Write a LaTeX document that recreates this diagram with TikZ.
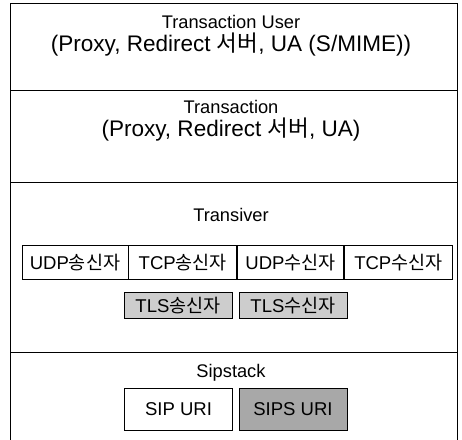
\documentclass[tikz,border=0pt]{standalone}
\usepackage{fontspec}
\setmainfont{Liberation Sans}
\newfontfamily\kr{Noto Sans CJK KR}
\usetikzlibrary{positioning}
\definecolor{tlsgray}{HTML}{CDCDCD}
\definecolor{sipsgray}{HTML}{A8A8A8}
\newcommand{\hg}[1]{{\kr #1}}
\tikzset{
  layer/.style = {draw, line width=0.75pt},
  title/.style = {font=\fontsize{13.7}{16}\selectfont, inner sep=0pt},
  subtitle/.style = {font=\fontsize{16.9}{20}\selectfont, inner sep=0pt},
  unit/.style = {draw, line width=0.6pt, minimum height=25.5pt, inner sep=0pt,
    font=\fontsize{13.9}{17}\selectfont},
  tls/.style = {unit, fill=tlsgray, minimum width=81pt, minimum height=19pt},
  uri/.style = {unit, minimum width=81pt, minimum height=31pt}
}

\begin{document}
\begin{tikzpicture}[x=0.75pt,y=-0.75pt]
  \useasboundingbox (0,0) rectangle (462,440);
  % layers
  \draw[layer] (10,445) -- (10,3) -- (458,3) -- (458,445);
  \draw[layer] (10,90) -- (458,90);
  \draw[layer] (10,182) -- (458,182);
  \draw[layer] (10,352) -- (458,352);
  % Transaction User
  \node[title] (tu) at (231,22) {Transaction User};
  \node[subtitle] (tuwho) at (231,45) {(Proxy, Redirect \hg{서버}, UA (S/MIME))};
  % Transaction
  \node[title] (ta) at (231,107) {Transaction};
  \node[subtitle] (tawho) at (231,130) {(Proxy, Redirect \hg{서버}, UA)};
  % Transiver
  \node[title] (tr) at (231,215) {Transiver};
  \node[unit, minimum width=79.5pt] (udps) at (75,262.5) {UDP\hg{송신자}};
  \node[unit, minimum width=81pt, right=0pt of udps] (tcps) {TCP\hg{송신자}};
  \node[unit, minimum width=79.5pt, right=0pt of tcps] (udpr) {UDP\hg{수신자}};
  \node[unit, minimum width=81pt, right=0pt of udpr] (tcpr) {TCP\hg{수신자}};
  \node[tls] (tlss) at (178,305.5) {TLS\hg{송신자}};
  \node[tls] (tlsr) at (293,305.5) {TLS\hg{수신자}};
  % Sipstack
  \node[title] (ss) at (231,373) {Sipstack};
  \node[uri] (sip) at (178.5,409.5) {SIP URI};
  \node[uri, fill=sipsgray] (sips) at (293,409.5) {SIPS URI};
\end{tikzpicture}
\end{document}
